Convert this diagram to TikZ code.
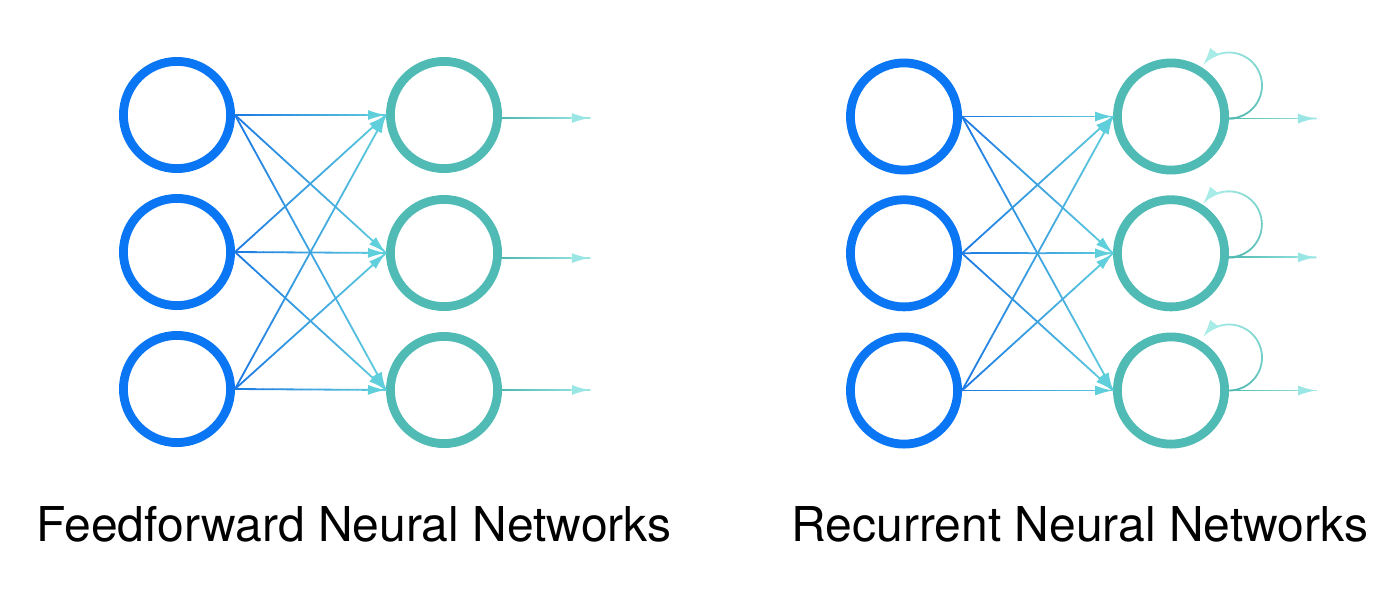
\documentclass[tikz,border=0pt]{standalone}
\usepackage{fontspec}
\setmainfont{TeX Gyre Heros}
\usetikzlibrary{calc,arrows.meta}
\definecolor{inblue}{HTML}{0A76F4}
\definecolor{hidteal}{HTML}{50BAB4}
\definecolor{wireA}{HTML}{1C78E4}
\definecolor{wireB}{HTML}{60CFDC}
\definecolor{outA}{HTML}{4DB8B0}
\definecolor{outB}{HTML}{9AE6E4}
\definecolor{loopA}{HTML}{4DB8B0}
\definecolor{loopB}{HTML}{A8ECE8}
\tikzset{
  neuron/.style={circle, draw, line width=4.4pt, minimum size=53.6pt, inner sep=0pt},
  inneuron/.style={neuron, draw=inblue},
  hidneuron/.style={neuron, draw=hidteal},
  wire/.style={line width=0.9pt, line cap=round},
  tipped/.style={-{Latex[length=9pt,width=5pt]}},
  caption/.style={anchor=base, inner sep=0pt, font=\fontsize{24pt}{28pt}\selectfont},
}
% gradient connector: #1 from, #2 to, #3 start colour, #4 end colour, #5 tip colour
\newcommand\gradconn[5]{%
  \foreach \k in {0,...,15}{%
    \pgfmathsetmacro\gcA{\k/16}%
    \pgfmathsetmacro\gcB{(\k+1)/16}%
    \pgfmathtruncatemacro\gcC{round(100*(\k+0.5)/16)}%
    \draw[wire,#4!\gcC!#3] ($(#1)!\gcA!(#2)$) -- ($(#1)!\gcB!(#2)$);
  }%
  \draw[wire,tipped,#5] ($(#2)!9.5pt!(#1)$) -- (#2);
}
% self loop starting at anchor #1, centre coordinate named #2
\newcommand\selfloop[2]{%
  \coordinate (#2) at ($(#1)+(0,-33)$);
  \foreach \k in {0,...,19}{%
    \pgfmathsetmacro\laA{-90+10.75*\k}%
    \pgfmathsetmacro\laB{-90+10.75*(\k+1)}%
    \pgfmathtruncatemacro\lpc{round(100*(\k+0.5)/20)}%
    \draw[wire,loopB!\lpc!loopA] ($(#2)+(\laA:16.5pt)$) arc[start angle=\laA, end angle=\laB, radius=16.5pt];
  }%
  \draw[wire,tipped,loopB] ($(#2)+(105:16.5pt)$) arc[start angle=105, end angle=142, radius=16.5pt];
}
\begin{document}
\begin{tikzpicture}[x=0.5pt,y=-0.5pt]
\useasboundingbox (0,0) rectangle (1400,600);
% ---------- feedforward ----------
\node[inneuron] (fi1) at (177,115) {};
\node[inneuron] (fi2) at (177,252) {};
\node[inneuron] (fi3) at (177,389) {};
\node[hidneuron] (fh1) at (444,115) {};
\node[hidneuron] (fh2) at (444,253) {};
\node[hidneuron] (fh3) at (444,390) {};
\foreach \a in {1,2,3}{
  \foreach \b in {1,2,3}{
    \gradconn{fi\a.east}{fh\b.west}{wireA}{wireB}{wireB}
  }
}
\coordinate (fo1) at ($(fh1.-3)+(88,0)$);
\coordinate (fo2) at ($(fh2.-5)+(88,0)$);
\coordinate (fo3) at ($(fh3.0)+(88,0)$);
\gradconn{fh1.-3}{fo1}{outA}{outB}{outB}
\gradconn{fh2.-5}{fo2}{outA}{outB}{outB}
\gradconn{fh3.0}{fo3}{outA}{outB}{outB}
% ---------- recurrent ----------
\node[inneuron] (ri1) at (904,116.5) {};
\node[inneuron] (ri2) at (904,253.3) {};
\node[inneuron] (ri3) at (904,390.5) {};
\node[hidneuron] (rh1) at (1171,116.5) {};
\node[hidneuron] (rh2) at (1171,253.3) {};
\node[hidneuron] (rh3) at (1171,390.5) {};
\foreach \a in {1,2,3}{
  \foreach \b in {1,2,3}{
    \gradconn{ri\a.east}{rh\b.west}{wireA}{wireB}{wireB}
  }
}
\coordinate (ro1) at ($(rh1.-2.5)+(87,0)$);
\coordinate (ro2) at ($(rh2.-4)+(87,0)$);
\coordinate (ro3) at ($(rh3.0)+(87,0)$);
\gradconn{rh1.-2.5}{ro1}{outA}{outB}{outB}
\gradconn{rh2.-4}{ro2}{outA}{outB}{outB}
\gradconn{rh3.0}{ro3}{outA}{outB}{outB}
\selfloop{rh1.-2.5}{rc1}
\selfloop{rh2.-4}{rc2}
\selfloop{rh3.0}{rc3}
% ---------- captions ----------
\node[caption] (cap1) at (354,541) {Feedforward Neural Networks};
\node[caption] (cap2) at (1080,541) {Recurrent Neural Networks};
\end{tikzpicture}
\end{document}
